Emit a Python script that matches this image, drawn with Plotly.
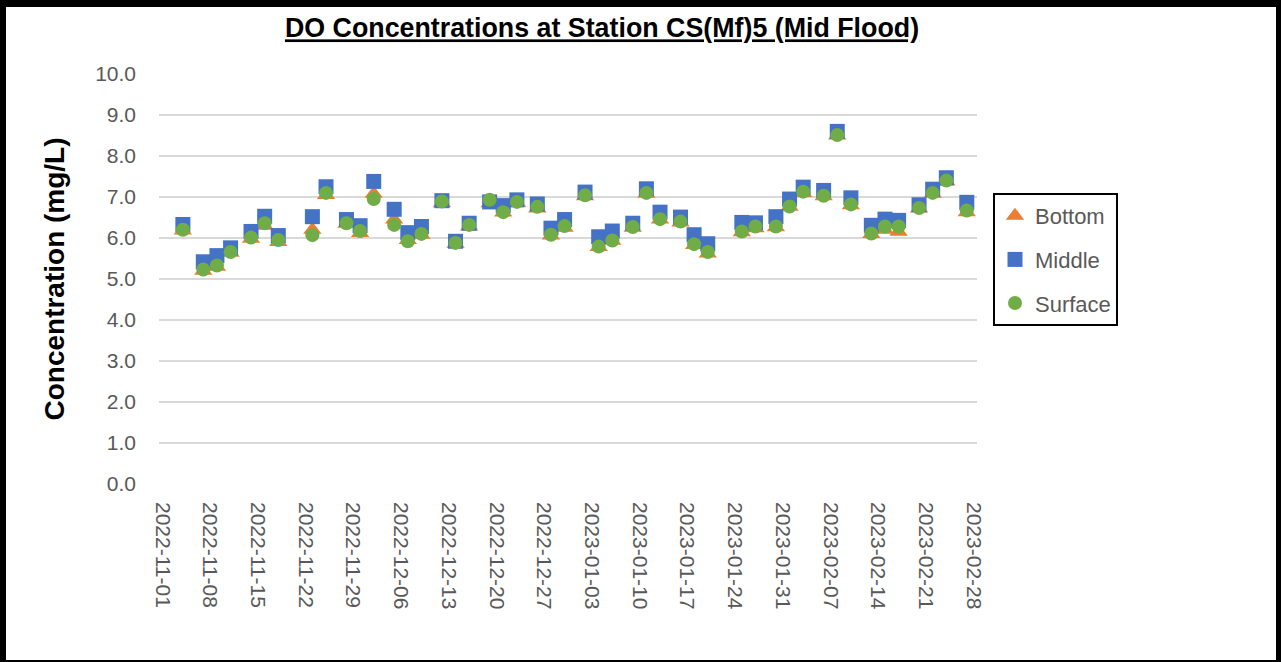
import plotly.graph_objects as go

dates = ['2022-11-04', '2022-11-07', '2022-11-09', '2022-11-11', '2022-11-14', '2022-11-16', '2022-11-18',
         '2022-11-23', '2022-11-25', '2022-11-28', '2022-11-30', '2022-12-02', '2022-12-05', '2022-12-07', '2022-12-09',
         '2022-12-12', '2022-12-14', '2022-12-16', '2022-12-19', '2022-12-21', '2022-12-23', '2022-12-26', '2022-12-28', '2022-12-30',
         '2023-01-02', '2023-01-04', '2023-01-06', '2023-01-09', '2023-01-11', '2023-01-13', '2023-01-16', '2023-01-18', '2023-01-20',
         '2023-01-25', '2023-01-27', '2023-01-30', '2023-02-01', '2023-02-03', '2023-02-06', '2023-02-08', '2023-02-10',
         '2023-02-13', '2023-02-15', '2023-02-17', '2023-02-20', '2023-02-22', '2023-02-24', '2023-02-27']

bottom = [6.18, 5.20, 5.30, 5.64, 5.98, 6.30, 5.90,
          6.20, 7.05, 6.35, 6.12, 7.08, 6.45, 5.95, 6.08,
          6.85, 5.86, 6.28, 6.85, 6.62, 6.86, 6.72, 6.06, 6.25,
          7.02, 5.78, 5.93, 6.25, 7.08, 6.45, 6.38, 5.83, 5.62,
          6.14, 6.24, 6.26, 6.76, 7.10, 7.02, 8.50, 6.80,
          6.10, 6.20, 6.15, 6.72, 7.08, 7.38, 6.63]

middle = [6.33, 5.42, 5.57, 5.76, 6.16, 6.53, 6.06,
          6.52, 7.25, 6.45, 6.30, 7.38, 6.70, 6.13, 6.28,
          6.91, 5.92, 6.36, 6.88, 6.79, 6.93, 6.83, 6.24, 6.45,
          7.12, 6.03, 6.17, 6.36, 7.20, 6.63, 6.51, 6.08, 5.86,
          6.38, 6.37, 6.52, 6.95, 7.24, 7.16, 8.60, 6.98,
          6.31, 6.46, 6.43, 6.81, 7.19, 7.47, 6.87]

surface = [6.20, 5.23, 5.33, 5.66, 6.01, 6.36, 5.95,
           6.07, 7.10, 6.36, 6.17, 6.95, 6.32, 5.92, 6.10,
           6.89, 5.88, 6.32, 6.93, 6.63, 6.88, 6.76, 6.08, 6.29,
           7.04, 5.79, 5.94, 6.27, 7.10, 6.46, 6.40, 5.85, 5.66,
           6.16, 6.28, 6.28, 6.77, 7.13, 7.03, 8.51, 6.82,
           6.11, 6.28, 6.28, 6.73, 7.10, 7.40, 6.67]

series_names = ['Bottom', 'Middle', 'Surface']
title_text = 'DO Concentrations at Station CS(Mf)5 (Mid Flood)'
y_title = 'Concentration (mg/L)'

FONT = 'Liberation Sans, Arial, sans-serif'
GRAY = '#595959'

fig = go.Figure()
fig.add_trace(go.Scatter(x=dates, y=bottom, mode='markers', name=series_names[0], legendgroup='b',
                         marker=dict(symbol='triangle-up', size=16, color='#ED7D31')))
fig.add_trace(go.Scatter(x=dates, y=middle, mode='markers', name=series_names[1], legendgroup='m',
                         marker=dict(symbol='square', size=15, color='#4472C4')))
fig.add_trace(go.Scatter(x=dates, y=surface, mode='markers', name=series_names[2], legendgroup='s',
                         marker=dict(symbol='circle', size=14, color='#70AD47')))

ml, mr, mt, mb = 159, 1281 - 977, 74, 662 - 484
pw, ph = 977 - 159, 484 - 74


def px_x(p):
    return (p - ml) / pw


def px_y(p):
    return (484 - p) / ph


shapes = []
for x0, x1, y0, y1 in [(0, 6, 0, 662), (1276, 1281, 0, 662), (0, 1281, 0, 7), (0, 1281, 660, 662)]:
    shapes.append(dict(type='rect', xref='paper', yref='paper',
                       x0=px_x(x0), x1=px_x(x1), y0=px_y(y0), y1=px_y(y1),
                       fillcolor='black', line=dict(width=0), layer='above'))

fig.update_layout(
    width=1281, height=662,
    margin=dict(l=ml, r=mr, t=mt, b=mb),
    paper_bgcolor='white', plot_bgcolor='white',
    font=dict(family=FONT, color=GRAY, size=21),
    title=dict(text='<u>' + title_text + '</u>', x=602 / 1281, xanchor='center',
               y=1 - 28 / 662, yanchor='middle', yref='container',
               font=dict(family=FONT, size=26.8, color='black', weight='bold')),
    xaxis=dict(type='date', range=['2022-10-31 12:00', '2023-02-28 12:00'],
               tick0='2022-11-01', dtick=7 * 24 * 3600 * 1000, tickformat='%Y-%m-%d',
               tickangle=90, showgrid=False, zeroline=False, showline=False, ticks='',
               ticklabelstandoff=17, tickfont=dict(size=21, color=GRAY, family=FONT)),
    yaxis=dict(range=[0, 10], dtick=1, tickformat='.1f', showgrid=True, gridcolor='#D9D9D9', gridwidth=1.5,
               zeroline=False, showline=False, ticks='', ticklabelstandoff=22,
               tickfont=dict(size=21, color=GRAY, family=FONT),
               title=dict(text=y_title, standoff=22,
                          font=dict(family=FONT, size=28, color='black', weight='bold'))),
    legend=dict(x=px_x(993), y=px_y(193), xanchor='left', yanchor='top',
                bordercolor='black', borderwidth=2, bgcolor='white',
                tracegroupgap=12, font=dict(size=22, color=GRAY, family=FONT)),
    shapes=shapes,
)

fig.write_html('out.html', config={'displayModeBar': False},
               post_script="document.body.style.margin='0';document.body.style.overflow='hidden';")
